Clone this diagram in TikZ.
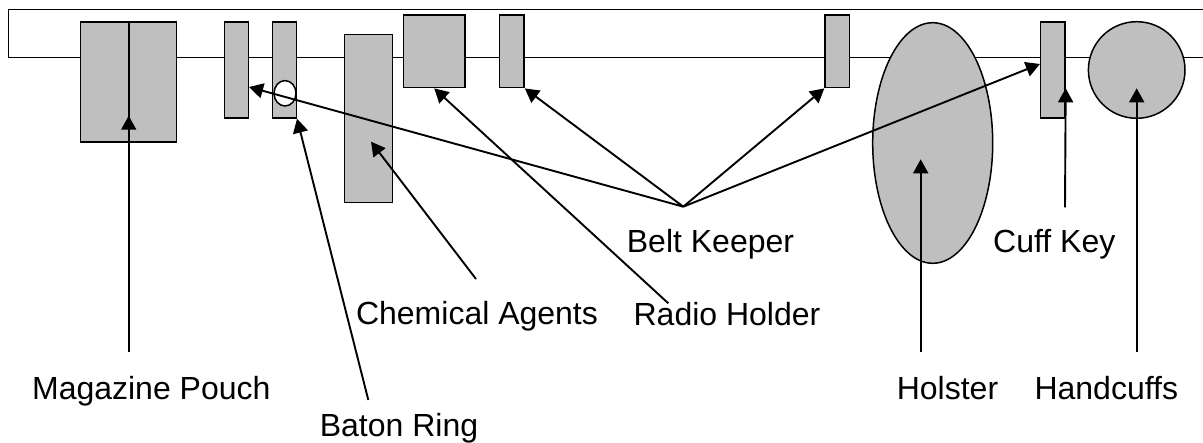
\documentclass[tikz,border=0pt]{standalone}
\usepackage{fontspec}
\setmainfont{Liberation Sans}
\usepackage{tikz}
\usetikzlibrary{arrows.meta,shapes.geometric}
\tikzstyle{kit} = [rectangle, draw=black, fill=lightgray, line width=1.5pt, inner sep=0pt]
\tikzstyle{kitoval} = [ellipse, draw=black, fill=lightgray, line width=1.5pt, inner sep=0pt]
\tikzstyle{tag} = [anchor=base, inner sep=0pt, font=\fontsize{32}{36}\selectfont]
\tikzstyle{pointer} = [-{Triangle[length=14pt,width=15pt]}, line width=1.9pt]

\begin{document}
\begin{tikzpicture}[x=1pt, y=-1pt]
 \useasboundingbox (0,0) rectangle (1203,443);

 % belt
 \draw[line width=1.5pt] (1210,9.5) -- (8.3,9.5) -- (8.3,57.3) -- (1210,57.3);

 \node (magpouch) [kit, minimum width=96pt, minimum height=120pt] at (128.7,82) {};
 \draw[line width=1.9pt] (magpouch.north) -- (magpouch.south);
 \node (keeperA) [kit, minimum width=24pt, minimum height=96pt] at (236.3,70) {};
 \node (batonholder) [kit, minimum width=23.6pt, minimum height=96pt] at (284.5,70) {};
 \node (ring) [ellipse, draw=black, fill=white, line width=1.5pt, inner sep=0pt, minimum width=22pt, minimum height=25.4pt] at (285,93.3) {};
 \node (chemical) [kit, minimum width=48pt, minimum height=167.6pt] at (368.3,118.5) {};
 \node (radio) [kit, minimum width=61.7pt, minimum height=72.7pt] at (434.2,51.3) {};
 \node (keeperB) [kit, minimum width=24.7pt, minimum height=72.7pt] at (511.7,51.3) {};
 \node (keeperC) [kit, minimum width=24.3pt, minimum height=72.7pt] at (837.2,51.3) {};
 \node (holster) [kitoval, minimum width=120pt, minimum height=240.6pt] at (932.7,143) {};
 \node (cuffkey) [kit, minimum width=24.3pt, minimum height=96pt] at (1052.8,70) {};
 \node (handcuffs) [kitoval, minimum width=96.6pt, minimum height=96.6pt] at (1136.7,70) {};

 \node (magtext) [tag] at (151.3,400) {Magazine Pouch};
 \node (batontext) [tag] at (399,436.7) {Baton Ring};
 \node (chemtext) [tag] at (477,325) {Chemical Agents};
 \node (radiotext) [tag] at (727,325.7) {Radio Holder};
 \node (keepertext) [tag] at (710.5,252.7) {Belt Keeper};
 \node (cufftext) [tag] at (1054.3,252.3) {Cuff Key};
 \node (holstertext) [tag] at (947.5,400) {Holster};
 \node (handcuffstext) [tag] at (1106.3,400) {Handcuffs};

 \coordinate (magtail) at (128.7,351.7);
 \coordinate (batontail) at (368.3,400);
 \coordinate (chemtail) at (476,279);
 \coordinate (radiotail) at (668.3,303.3);
 \coordinate (keeperpt) at (683.3,206.7);
 \coordinate (holstertail) at (920.7,351.7);
 \coordinate (cufftail) at (1065,207.3);
 \coordinate (handcuffstail) at (1136.7,351.7);

 \draw[pointer] (magtail) -- ([yshift=27pt]magpouch.south);
 \draw[pointer] (batontail) -- (batonholder.south east);
 \draw[pointer] (chemtail) -- ([shift={(2.7,23.2)}]chemical.center);
 \draw[pointer] (radiotail) -- (radio.south);
 \draw[pointer] (keeperpt) -- ([yshift=-17pt]keeperA.east);
 \draw[pointer] (keeperpt) -- (keeperB.south east);
 \draw[pointer] (keeperpt) -- (keeperC.south west);
 \draw[pointer] (keeperpt) -- ([yshift=6pt]cuffkey.west);
 \draw[pointer] (holstertail) -- ([shift={(-12,16.3)}]holster.center);
 \draw[pointer] (cufftail) -- ([yshift=-18.3pt]cuffkey.east);
 \draw[pointer] (handcuffstail) -- ([yshift=-18.3pt]handcuffs.center);
\end{tikzpicture}
\end{document}
